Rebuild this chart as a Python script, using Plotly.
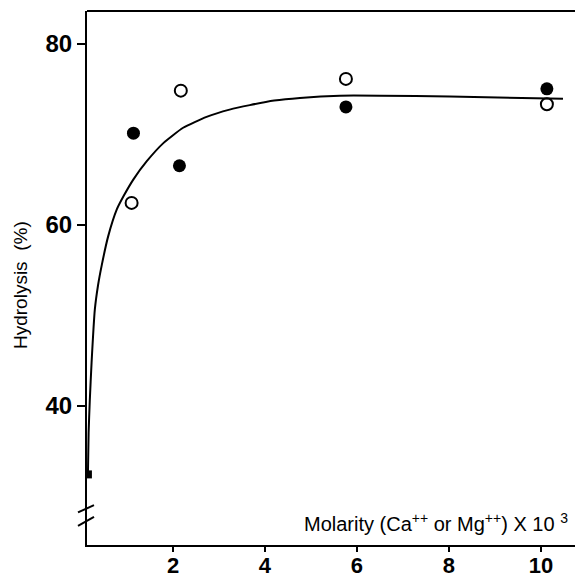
import plotly.graph_objects as go

# Data
open_x = [1.10, 2.17, 5.76, 10.13]
open_y = [62.4, 74.8, 76.1, 73.3]
filled_x = [1.14, 2.14, 5.76, 10.13]
filled_y = [70.1, 66.5, 73.0, 75.0]
control_x = [0.15]
control_y = [32.4]
curve_x = [0.15, 0.165, 0.19, 0.23, 0.30, 0.37, 0.45, 0.59, 0.78, 0.92, 1.14, 1.43, 1.79,
           2.22, 2.73, 3.23, 3.67, 4.2, 4.76, 5.63, 6.5, 8.02, 10.48]
curve_y = [32.4, 37.0, 40.5, 44.8, 50.6, 53.3, 55.5, 58.7, 61.7, 63.1, 65.0, 67.0, 69.0,
           70.7, 71.9, 72.7, 73.2, 73.7, 74.0, 74.25, 74.25, 74.15, 73.9]
x_ticks = [2, 4, 6, 8, 10]
y_ticks = [40, 60, 80]

X_RANGE = [0.13, 10.85]
Y_RANGE = [24.6, 83.6]

fig = go.Figure()
fig.add_trace(go.Scatter(x=curve_x, y=curve_y, mode="lines",
                         line=dict(color="black", width=2, shape="spline", smoothing=0.5),
                         hoverinfo="skip", showlegend=False))
fig.add_trace(go.Scatter(x=open_x, y=open_y, mode="markers",
                         marker=dict(symbol="circle-open", size=12, color="black", line=dict(width=2)),
                         showlegend=False))
fig.add_trace(go.Scatter(x=filled_x, y=filled_y, mode="markers",
                         marker=dict(symbol="circle", size=13, color="black"),
                         showlegend=False))
fig.add_trace(go.Scatter(x=control_x, y=control_y, mode="markers",
                         marker=dict(symbol="square", size=8, color="black"),
                         showlegend=False))

# page body has an 8px margin, so the figure is drawn 8px smaller
fig.update_layout(
    width=575, height=569,
    margin=dict(l=79, r=3, t=3, b=32),
    paper_bgcolor="white", plot_bgcolor="white",
    font=dict(family="Liberation Sans, Arial, sans-serif", color="black"),
    xaxis=dict(range=X_RANGE, tickvals=x_ticks, ticks="", showgrid=False, zeroline=False,
               automargin=False, showline=True, linecolor="black", linewidth=2, mirror=False,
               minor=dict(tickvals=x_ticks, ticks="outside", ticklen=5, tickwidth=2,
                          tickcolor="black", showgrid=False),
               tickfont=dict(size=22, weight="bold", family="Liberation Sans, Arial")),
    yaxis=dict(range=Y_RANGE, tickvals=y_ticks, ticks="outside", ticklen=8, tickwidth=2,
               tickcolor="black", showgrid=False, zeroline=False, automargin=False,
               showline=True, linecolor="black", linewidth=2, mirror=False,
               tickfont=dict(size=24, weight="bold", family="Liberation Sans, Arial")),
)

W = 493.0
H = 534.0
# top spine
fig.add_shape(type="line", xref="paper", yref="paper", x0=0, x1=1, y0=1, y1=1,
              line=dict(color="black", width=2))
# partial right spine
fig.add_shape(type="line", xref="paper", yref="y", x0=1, x1=1, y0=Y_RANGE[0], y1=59.5,
              line=dict(color="black", width=2))
# axis break marks
for (y0, y1) in [(28.2, 29.0), (26.7, 27.7)]:
    fig.add_shape(type="line", xref="paper", yref="y",
                  x0=(78 - 87) / W, x1=(94 - 87) / W, y0=y0, y1=y1,
                  line=dict(color="black", width=2))

# y-axis title
fig.add_annotation(text="Hydrolysis  (%)", xref="paper", yref="paper",
                   x=(21 - 87) / W, y=(545 - 285) / H, textangle=-90,
                   showarrow=False, font=dict(size=19, family="Liberation Sans, Arial"),
                   xanchor="center", yanchor="middle")
# x-axis title inside plot
fig.add_annotation(text="Molarity (Ca<sup>++</sup> or Mg<sup>++</sup>) X 10 <sup>3</sup>",
                   xref="paper", yref="paper", x=(570 - 87) / W, y=(545 - 522) / H,
                   showarrow=False, font=dict(size=20, family="Liberation Sans, Arial"),
                   xanchor="right", yanchor="middle")

fig.write_html("out.html")
